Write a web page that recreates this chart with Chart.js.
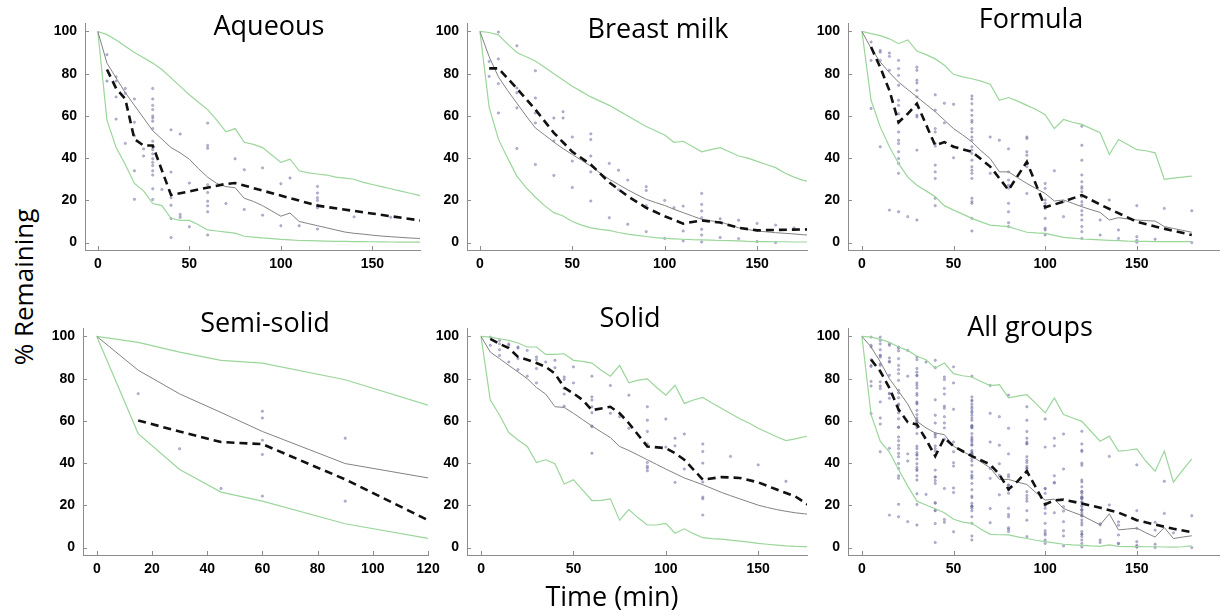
<!DOCTYPE html>
<html>
<head>
<meta charset="utf-8">
<script src="https://cdn.jsdelivr.net/npm/chart.js@4.4.0/dist/chart.umd.min.js"></script>
<style>
  body { margin: 0; background: #fff; }
  #page { position: relative; width: 1220px; height: 614px; overflow: hidden; background: #fff; }
  canvas { position: absolute; }
  .lbl { position: absolute; font-family: "Open Sans", sans-serif; color: #000; line-height: 1; white-space: nowrap; z-index: 2; }
</style>
</head>
<body>
<div id="page"></div>
<script>
'use strict';

// time grid of the simulated curves (min)
var curveT = [0, 5, 10, 15, 20, 25, 30, 35, 40, 45, 50, 55, 60, 65, 70, 75, 80, 85, 90,
    95, 100, 105, 110, 115, 120, 125, 130, 135, 140, 145, 150, 155, 160, 165, 170, 175, 180];
var semiT = [0, 15, 30, 45, 60, 90, 120];

var xTicks = [0, 50, 100, 150];
var semiXTicks = [0, 20, 40, 60, 80, 100, 120];
var yTicks = [0, 20, 40, 60, 80, 100];

// Aqueous
var aqueousUpper = [100, 98.5, 96, 93, 90, 87.5, 85, 82, 78, 74, 70, 66.5, 63, 58, 52.5, 54, 47.5, 46.5, 45,
    41.5, 38, 39.5, 34, 33, 32.5, 32, 31, 30.5, 30, 28.5, 27.5, 26.5, 25.5, 24.5, 23.5, 22.5, 21.5];
var aqueousLower = [100, 58, 45, 37, 28, 24.5, 18.5, 17.5, 11.5, 10.5, 10.5, 8.5, 6, 5.5, 5, 4.5, 3, 2.6, 2.2,
    1.9, 1.5, 1.3, 1, 0.9, 0.8, 0.7, 0.6, 0.55, 0.5, 0.45, 0.4, 0.35, 0.3, 0.25, 0.2, 0.2, 0.2];
var aqueousModel = [100, 85, 78, 71, 65, 59, 53, 49, 45, 42.5, 39.5, 35, 31, 28, 26.5, 26, 21, 19.5, 17.5,
    15, 12.5, 14, 10, 9, 8, 7, 6, 5, 4.4, 4, 3.5, 3.1, 2.8, 2.5, 2.2, 2, 1.9];
var aqueousMedT = [5, 10, 15, 20, 25, 30, 40, 70, 75, 120, 180];
var aqueousMed = [82, 73, 68, 49, 46, 46, 22.5, 27.8, 28.2, 17.5, 10];
var aqueousPts = [
    [5, 89, 76.5],
    [10, 78.5, 76.5, 69, 58.5],
    [15, 73, 70.7, 47],
    [20, 68, 57, 50.6, 34, 20.5],
    [25, 44.4, 41],
    [30, 73, 68, 65, 63, 60, 59, 57.5, 54, 48, 45, 44, 42, 39.7, 38, 36.5, 34, 32, 25.5, 20.4],
    [35, 25.2],
    [40, 53.4, 33.4, 21.3, 17.7, 11.4, 2.4],
    [45, 51.4, 13.3, 12],
    [50, 28.2, 7.5],
    [60, 56.6, 46, 44.7, 27.4, 23.7, 19.6, 17.4, 14.6, 3.6],
    [70, 18.5],
    [75, 39.7],
    [80, 34.5, 15.7],
    [90, 35.4, 13],
    [100, 27.9, 8],
    [105, 30.6],
    [110, 8],
    [120, 26.6, 23.5, 21.3, 20, 17.7, 16.5, 6.4],
    [140, 12.2],
    [160, 12]
];

// Breast milk
var breastUpper = [100, 99.5, 98.4, 94, 90, 88, 86, 83, 80, 77, 74, 71.5, 69, 67, 65, 62.5, 60, 57.5, 55,
    53, 51, 47.5, 48, 45.5, 43, 44, 45, 43, 41, 40, 38.5, 37, 35.5, 33, 31, 29.5, 28.5];
var breastLower = [100, 64, 49, 40, 31.5, 26, 21.5, 17.5, 14.2, 12.6, 10, 8.3, 7, 6.3, 5.8, 4.8, 4, 3.4, 2.9,
    2.4, 2, 1.8, 1.6, 1.4, 1.3, 1.2, 1, 0.9, 0.8, 0.6, 0.5, 0.5, 0.4, 0.4, 0.3, 0.3, 0.3];
var breastModel = [100, 88, 78.5, 72, 66, 60, 54.3, 51, 47.6, 44.5, 41.7, 39, 36.2, 33, 30, 27.5, 25, 22.7, 20.5,
    19, 17.6, 15.8, 14.2, 12.6, 11, 10.3, 9.8, 8.4, 7, 6.2, 5.5, 5.1, 4.7, 4.4, 4.1, 3.7, 3.5];
var breastMedT = [5, 10, 20, 30, 40, 50, 60, 70, 80, 90, 100, 110, 120, 130, 140, 150, 160, 180];
var breastMed = [82.5, 82.5, 73, 63, 52, 43, 37, 28.5, 22, 16.5, 12.5, 9, 10.5, 9.5, 7, 5.8, 6, 6.3];
var breastPts = [
    [5, 85.8, 78.7],
    [10, 99.7, 87, 75.3, 61.4],
    [20, 93.2, 73.2, 71, 63.8, 44.6],
    [30, 81.4, 68.5, 61.4, 56.7, 37],
    [40, 59, 48.2, 31.8],
    [45, 62, 59],
    [50, 50, 38.6, 26.1],
    [60, 51.5, 48.8, 41, 33.5, 19.7],
    [70, 37.5, 11.8],
    [75, 34.3, 25],
    [80, 29.6, 8.7],
    [90, 26.5, 24.7, 17.5, 5.2],
    [100, 20, 2],
    [105, 16.5],
    [110, 17.3, 5.5, 0.8],
    [120, 23.3, 18.1, 15, 11.8, 6.3, 3.6, 0.3],
    [130, 11.3, 2.4],
    [140, 10.6, 1.9],
    [150, 9.1, 0.5],
    [160, 8.3, 0],
    [170, 7]
];

// Formula
var formulaUpper = [100, 99, 98, 96.5, 94.2, 96, 90.7, 89, 87, 84, 79.7, 78.5, 77.6, 76.5, 75, 67.4, 68.7, 67, 65,
    63, 60.6, 54, 58.3, 57, 56, 54, 52, 41.7, 48.8, 46.5, 44, 43.5, 42.5, 30, 30.5, 31, 31.5];
var formulaLower = [100, 67.4, 54.8, 45.4, 37.5, 31, 27.2, 24.5, 21.7, 17.5, 15.4, 13.5, 11.5, 9.8, 8.3, 7.9, 7.6, 6.2, 4.9,
    4.6, 4.4, 3.4, 2.5, 2.1, 1.7, 1.5, 1.3, 1.1, 0.9, 0.7, 0.6, 0.6, 0.5, 0.5, 0.5, 0.5, 0.5];
var formulaModel = [100, 92, 85.5, 80.5, 76, 72.5, 69, 65.5, 62, 58, 54, 51, 47.7, 43.5, 39.8, 33.5, 33.5, 30.7, 28,
    25.6, 23.3, 19.7, 20.2, 18.6, 17, 15.6, 14.3, 10.7, 11.8, 11.2, 10.7, 10.4, 10.2, 7.6, 6.7, 5.8, 4.9];
var formulaMedT = [5, 10, 15, 20, 25, 30, 40, 45, 50, 60, 70, 80, 90, 100, 110, 120, 130, 150, 160, 180];
var formulaMed = [92.6, 83, 72, 57, 61, 65.8, 46, 47.6, 45.4, 43, 36, 24.9, 38.3, 16.7, 19.4, 22.5, 18, 9.9, 7.6, 3.6];
var formulaPts = [
    [5, 95, 86.3, 63.5],
    [10, 91, 90.2, 86.3, 45.4],
    [15, 89.8, 88.2, 81.6, 15.4],
    [20, 86.3, 82.4, 79.2, 74.5, 67.4, 65, 61, 57, 52.4, 48.5, 46.9, 43, 39.8, 37.5, 32.8, 14.6],
    [25, 12.3],
    [30, 83.1, 81.6, 76.9, 75.6, 72.1, 69, 60.3, 59.5, 43.8, 10.7],
    [40, 70, 62.7, 54, 52.4, 46.9, 45.7, 36.7, 33.5, 30.4, 21, 17.5],
    [45, 66, 56.7],
    [50, 65.5, 45.4, 40.2],
    [60, 69.4, 68, 65.8, 62.7, 60.3, 57.9, 57, 54, 52.4, 50, 48.5, 45.4, 43.8, 42.2, 39, 35.9, 34.3,
        32.8, 30.4, 21, 19.4, 18.6, 11.5, 5.5],
    [70, 50, 32.8],
    [75, 48.5],
    [80, 44.4, 33.5, 29.6, 27.2, 25.7, 18.6, 14.6, 9.4, 7.6],
    [90, 50, 49.3, 43, 41.4, 37.5, 35.9, 23.3],
    [100, 28, 25.7, 20.2, 18.6, 16.2, 11.5, 6.8, 6, 3.6],
    [105, 34],
    [110, 19.4, 12.3],
    [120, 55.1, 46.1, 39, 32, 28.8, 26.5, 25.7, 24.1, 21.7, 19.4, 17.8, 15.1, 13.1, 10.7, 7.6, 5.2, 2],
    [130, 10.7, 3.6],
    [135, 20.2],
    [140, 6, 2],
    [150, 17.5, 2.8, 1, 0.2],
    [160, 1.6],
    [165, 16.2],
    [180, 15.1, 0]
];

// Semi-solid
var semiUpper = [100, 97.2, 92.6, 88.7, 87.4, 79.5, 67.5];
var semiLower = [100, 54, 37, 26.3, 22, 11.3, 4.4];
var semiModel = [100, 84, 72.8, 64, 55, 39.8, 33];
var semiMedT = [15, 30, 45, 60, 90, 120];
var semiMed = [60.2, 55, 50, 49, 32.3, 13];
var semiPts = [
    [15, 72.9],
    [30, 46.8],
    [45, 28],
    [60, 64.6, 61.4, 50.9, 44.1, 24.4],
    [90, 51.8, 22]
];

// Solid
var solidUpper = [100, 99.7, 98.9, 98.1, 96.9, 95, 95, 91.5, 91.5, 91.8, 88.7, 88.2, 87.4, 84, 81.2, 86.3, 78, 79.3, 79.9,
    75.8, 72.2, 76.9, 68.3, 69.9, 71.1, 68.5, 66, 63.5, 61, 59, 56.5, 54.5, 52.5, 50.7, 51.5, 52.5, 53];
var solidLower = [100, 69.9, 62.8, 54.5, 51, 47.9, 40.3, 41.6, 39.7, 30.1, 32.2, 27.2, 22.3, 22.4, 23.1, 13, 18, 14.1, 10.7,
    10.7, 11.5, 6.8, 8.9, 6.6, 4.7, 4.3, 4, 3.5, 3.1, 2.6, 2, 1.6, 1.2, 0.8, 0.6, 0.5, 0.5];
var solidModel = [100, 92.6, 89.5, 86.3, 83.2, 80, 75.8, 72.7, 66.7, 66.4, 63.6, 60.6, 57.6, 54.8, 52.1, 47.9, 46, 43.8, 41.6,
    39.4, 37.2, 35.1, 33, 31.4, 29.8, 28, 26.2, 24.6, 23.1, 21.6, 20.1, 19, 18, 17.2, 16.5, 16, 15.7];
var solidMedT = [5, 10, 15, 20, 25, 30, 35, 40, 45, 50, 55, 60, 70, 75, 80, 90, 100, 105, 110, 120, 130, 140, 150, 160, 170, 180];
var solidMed = [98.9, 96.5, 94.5, 90.3, 89, 87.4, 85.6, 82.4, 75.8, 73, 69.9, 65.1, 66.7, 63.6, 58.9, 47.9, 47.1, 44.7, 41.6,
    32.2, 33.4, 33, 30.9, 27.5, 24.3, 18.5];
var solidPts = [
    [5, 99.7, 95.8],
    [10, 98.1, 96.5, 93.7, 91],
    [15, 96.5, 95.8, 87.9],
    [20, 95, 94.5, 89.5, 84.3],
    [25, 93.4, 81.2],
    [30, 90.3, 89, 84.8, 78],
    [35, 87.9],
    [40, 88.7, 85.2],
    [45, 80.8, 79.6, 75.4, 72.7, 67],
    [50, 85.6, 78],
    [60, 81.2, 71.4, 69.9, 66.7, 63.9, 57.6, 57.3, 44.7],
    [70, 76.8, 63.6],
    [75, 62],
    [80, 72.2, 56.5],
    [90, 66.7, 60.3, 55, 49.1, 40.3, 38.5, 37.7, 36.4],
    [100, 60.9, 47.6],
    [105, 51.8, 48.2, 30.9],
    [110, 53.8, 37.2],
    [120, 49.1, 45.5, 40, 31.1, 23.9, 23.1, 15.4],
    [135, 43.2],
    [150, 39.2],
    [165, 31.4]
];

// All groups
var allUpper = [100, 99.7, 98.7, 97.2, 95, 93.4, 90.6, 89, 85, 87.4, 82.4, 81.4, 80.8, 78.7, 76.7, 77.2, 70.9, 71.7, 72.4,
    68.2, 63.8, 70.9, 63, 61.4, 59.8, 55.1, 50.4, 52.8, 45.7, 46.1, 46.8, 40.9, 36.2, 45.7, 31, 36.7, 42];
var allLower = [100, 63, 50.4, 45.2, 37, 29.1, 22, 20.2, 18.4, 16.5, 13.4, 12.1, 11.5, 8.7, 6.3, 6.1, 6, 5.1, 4.3,
    3.5, 2.8, 2.2, 1.6, 1.3, 1.1, 0.8, 0.6, 1.3, 0.6, 0.5, 0.5, 0.4, 0.4, 0.3, 0.2, 0.4, 0.8];
var allModel = [100, 95, 88, 80, 74, 68, 59.8, 56.7, 54.3, 53.5, 48, 45.5, 43.3, 40.5, 37.8, 32.3, 32.3, 31, 29.9,
    26, 22.5, 23, 18.5, 16.8, 15.2, 13, 10.8, 16, 8.4, 8.8, 9.2, 7, 5, 9.5, 4.3, 5, 5.6];
var allMedT = [5, 10, 15, 20, 25, 30, 35, 40, 45, 50, 60, 70, 75, 80, 85, 90, 100, 105, 110, 120, 130, 140, 150, 160, 170, 180];
var allMed = [89, 83.5, 75.6, 65.4, 59.4, 58.3, 51.2, 43.3, 52, 48, 43.3, 39.4, 34.6, 27.6, 31.5, 36.2, 20.5, 22.4, 22.7,
    20.9, 18.9, 16.6, 13, 10.9, 8.9, 7.3];
var allPts = aqueousPts.concat(breastPts, formulaPts, semiPts, solidPts);

var greenColor = 'rgb(155, 214, 155)';
var grayColor = 'rgb(130, 130, 130)';
var axisColor = 'rgb(140, 140, 140)';

// fixed axis sizes so the plot areas land where the reference has them
var YW = 40, XH = 30, PT = 24, PR = 24;

var panels = [
    {title: 'Aqueous', tx: 269, ty: 11, area: [85, 23, 420, 250], xr: [-7, 176], ticks: xTicks, t: curveT,
        upper: aqueousUpper, lower: aqueousLower, model: aqueousModel, medT: aqueousMedT, med: aqueousMed, pts: aqueousPts},
    {title: 'Breast milk', tx: 658, ty: 14, area: [467, 23, 807, 250], xr: [-7, 177], ticks: xTicks, t: curveT,
        upper: breastUpper, lower: breastLower, model: breastModel, medT: breastMedT, med: breastMed, pts: breastPts},
    {title: 'Formula', tx: 1031, ty: 4, area: [848, 23, 1220, 250], xr: [-7.6, 195.4], ticks: xTicks, t: curveT,
        upper: formulaUpper, lower: formulaLower, model: formulaModel, medT: formulaMedT, med: formulaMed, pts: formulaPts},
    {title: 'Semi-solid', tx: 265, ty: 308, area: [83, 328, 428, 555], xr: [-5, 120], ticks: semiXTicks, t: semiT,
        upper: semiUpper, lower: semiLower, model: semiModel, medT: semiMedT, med: semiMed, pts: semiPts},
    {title: 'Solid', tx: 630, ty: 303, area: [467, 328, 807, 555], xr: [-7.6, 176.4], ticks: xTicks, t: curveT,
        upper: solidUpper, lower: solidLower, model: solidModel, medT: solidMedT, med: solidMed, pts: solidPts},
    {title: 'All groups', tx: 1030, ty: 312, area: [848, 328, 1220, 555], xr: [-7.6, 195.4], ticks: xTicks, t: curveT,
        upper: allUpper, lower: allLower, model: allModel, medT: allMedT, med: allMed, pts: allPts}
];

var innerTicks = {
    id: 'innerTicks',
    afterDraw: function(chart) {
        var ctx = chart.ctx, a = chart.chartArea;
        var xs = chart.scales.x, ys = chart.scales.y;
        ctx.save();
        ctx.strokeStyle = axisColor;
        ctx.lineWidth = 1;
        xs.ticks.forEach(function(tk) {
            var px = Math.round(xs.getPixelForValue(tk.value)) + 0.5;
            ctx.beginPath();
            ctx.moveTo(px, a.bottom);
            ctx.lineTo(px, a.bottom - 4);
            ctx.stroke();
        });
        ys.ticks.forEach(function(tk) {
            var py = Math.round(ys.getPixelForValue(tk.value)) + 0.5;
            ctx.beginPath();
            ctx.moveTo(a.left, py);
            ctx.lineTo(a.left + 4, py);
            ctx.stroke();
        });
        ctx.restore();
    }
};

function toXY(ts, vs) {
    return ts.map(function(t, i) { return {x: t, y: vs[i]}; });
}

function rowsToXY(rows) {
    var out = [];
    rows.forEach(function(r) {
        for (var i = 1; i < r.length; i++) out.push({x: r[0], y: r[i]});
    });
    return out;
}

function lineSet(data, color, width, dash, order) {
    return {
        data: data, showLine: true, borderColor: color, borderWidth: width, borderDash: dash,
        pointRadius: 0, fill: false, tension: 0, order: order
    };
}

var tickFont = {family: '"Liberation Sans", Arial, sans-serif', size: 14, weight: 'bold'};
var page = document.getElementById('page');

function makePanel(p) {
    var l = p.area[0], t = p.area[1], r = p.area[2], b = p.area[3];
    var cv = document.createElement('canvas');
    cv.width = r - l + YW + PR;
    cv.height = b - t + PT + XH;
    cv.style.left = (l - YW) + 'px';
    cv.style.top = (t - PT) + 'px';
    page.appendChild(cv);

    new Chart(cv, {
        type: 'scatter',
        data: {
            datasets: [
                lineSet(toXY(p.t, p.upper), greenColor, 1.2, [], 2),
                lineSet(toXY(p.t, p.lower), greenColor, 1.2, [], 2),
                lineSet(toXY(p.t, p.model), grayColor, 1, [], 1),
                lineSet(toXY(p.medT, p.med), '#111', 2.6, [8, 5], 0),
                {
                    data: rowsToXY(p.pts), pointRadius: 1.2, pointBorderWidth: 0.6,
                    backgroundColor: 'rgba(115, 115, 170, 0.5)', borderColor: 'rgba(110, 110, 160, 0.6)', order: 3
                }
            ]
        },
        options: {
            responsive: false,
            animation: false,
            devicePixelRatio: 1,
            events: [],
            layout: {padding: {top: PT, right: PR, left: 0, bottom: 0}},
            plugins: {legend: {display: false}, tooltip: {enabled: false}},
            scales: {
                x: {
                    type: 'linear', min: p.xr[0], max: p.xr[1],
                    grid: {display: false, drawTicks: false},
                    border: {color: axisColor, width: 1},
                    ticks: {font: tickFont, color: '#000', padding: 6, maxRotation: 0},
                    afterBuildTicks: function(s) { s.ticks = p.ticks.map(function(v) { return {value: v}; }); },
                    afterFit: function(s) { s.height = XH; }
                },
                y: {
                    type: 'linear', min: -3.5, max: 104,
                    grid: {display: false, drawTicks: false},
                    border: {color: axisColor, width: 1},
                    ticks: {font: tickFont, color: '#000', padding: 8},
                    afterBuildTicks: function(s) { s.ticks = yTicks.map(function(v) { return {value: v}; }); },
                    afterFit: function(s) { s.width = YW; }
                }
            }
        },
        plugins: [innerTicks]
    });

    var title = document.createElement('div');
    title.className = 'lbl';
    title.textContent = p.title;
    title.style.fontSize = '27px';
    title.style.left = p.tx + 'px';
    title.style.top = p.ty + 'px';
    title.style.transform = 'translateX(-50%)';
    page.appendChild(title);
}

panels.forEach(makePanel);

var yLabel = document.createElement('div');
yLabel.className = 'lbl';
yLabel.textContent = '% Remaining';
yLabel.style.fontSize = '26px';
yLabel.style.left = '23px';
yLabel.style.top = '287px';
yLabel.style.transform = 'translate(-50%, -50%) rotate(-90deg)';
page.appendChild(yLabel);

var xLabel = document.createElement('div');
xLabel.className = 'lbl';
xLabel.textContent = 'Time (min)';
xLabel.style.fontSize = '27px';
xLabel.style.left = '612px';
xLabel.style.top = '582px';
xLabel.style.transform = 'translateX(-50%)';
page.appendChild(xLabel);
</script>
</body>
</html>
